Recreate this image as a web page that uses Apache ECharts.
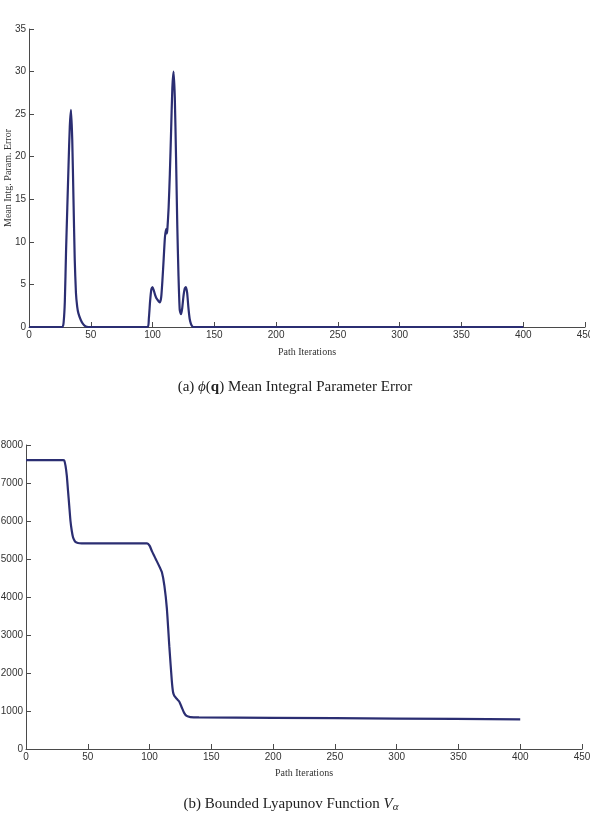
<!DOCTYPE html>
<html>
<head>
    <meta charset="UTF-8"/>
    <title>Path iterations</title>
    <style>
        html, body{
            margin: 0;
            background: #fff;
        }
    </style>
    <script src="https://cdn.jsdelivr.net/npm/echarts@6/dist/echarts.min.js"></script>
</head>
<body>
<div id="container" style="width: 590px;height: 815px;"></div>

<script>
  // (a) mean integral parameter error vs path iteration
  var errIter = [0, 27, 28, 29, 30, 31, 32, 33, 34, 35, 36, 37, 38, 39, 40, 42, 44, 46, 48,
                 96, 97, 98, 99, 100, 101, 102, 103, 104, 105, 106, 107, 108, 109, 110, 111, 111.5, 112,
                 113, 114, 115, 116, 117, 118, 119, 120, 121, 122, 123, 124, 125, 126, 127, 128,
                 129, 130, 131, 132, 133, 400];
  var errVal  = [0, 0, 0.5, 3, 9, 14, 19, 23.5, 25.5, 22, 15, 8, 4, 2.4, 1.6, 0.8, 0.3, 0.05, 0,
                 0, 1, 3, 4.4, 4.7, 4.3, 3.8, 3.4, 3.2, 3.0, 2.9, 3.5, 5.5, 8, 10.5, 11.5, 11, 11.5,
                 14, 18, 23, 28, 30, 27, 20, 12, 6, 2, 1.5, 2.2, 3.6, 4.5, 4.7, 4,
                 2.3, 1, 0.4, 0.1, 0, 0];

  // (b) bounded Lyapunov function vs path iteration
  var lyapIter = [0, 30, 31, 32, 33, 34, 35, 36, 37, 38, 39, 40, 42, 45, 98, 100, 102, 105, 108,
                  110, 112, 114, 116, 118, 119, 120, 122, 124, 126, 128, 130, 133, 140, 200, 300, 400];
  var lyapVal  = [7600, 7600, 7590, 7450, 7200, 6800, 6400, 6000, 5750, 5580, 5500, 5450, 5420, 5410,
                  5410, 5350, 5200, 5000, 4800, 4650, 4300, 3700, 2700, 1800, 1500, 1400, 1320, 1250,
                  1100, 950, 870, 840, 830, 820, 800, 780];

  var xTicks = [0, 450, 50];
  var errTicks = [0, 35, 5];
  var lyapTicks = [0, 8000, 1000];

  function pairs(xs, ys) {
      var out = [];
      for (var i = 0; i < xs.length; i++) out.push([xs[i], ys[i]]);
      return out;
  }

  var lineColor = '#2b2e72';
  var axisColor = '#4a4a4a';
  var sans = '"Liberation Sans", Arial, sans-serif';
  var serif = '"Liberation Serif", "Times New Roman", serif';

  function xAxis(idx, gap) {
      return {
          type: 'value', gridIndex: idx,
          min: xTicks[0], max: xTicks[1], interval: xTicks[2],
          name: 'Path Iterations', nameLocation: 'middle', nameGap: gap,
          nameMoveOverlap: false,
          nameTextStyle: {fontFamily: serif, fontSize: 10, color: '#333'},
          axisLine: {lineStyle: {color: axisColor, width: 1}},
          axisTick: {inside: true, length: 5, lineStyle: {color: axisColor}},
          axisLabel: {fontFamily: sans, fontSize: 10, color: '#333', margin: 3,
                      showMinLabel: true, showMaxLabel: true},
          splitLine: {show: false}
      };
  }

  function yAxis(idx, t, name) {
      return {
          type: 'value', gridIndex: idx,
          min: t[0], max: t[1], interval: t[2],
          name: name, nameLocation: 'middle', nameGap: 16,
          nameMoveOverlap: false,
          nameTextStyle: {fontFamily: serif, fontSize: 10, color: '#333'},
          axisLine: {show: true, lineStyle: {color: axisColor, width: 1}},
          axisTick: {show: true, inside: true, length: 5, lineStyle: {color: axisColor}},
          axisLabel: {fontFamily: sans, fontSize: 10, color: '#333', margin: 3,
                      formatter: function (v) { return String(v); }},
          splitLine: {show: false}
      };
  }

  var dom = document.getElementById("container");
  var myChart = echarts.init(dom);
  var option = {
      animation: false,
      title: [
          {
              text: '(a) {i|\u03D5}({b|q}) Mean Integral Parameter Error',
              left: 'center', top: 375,
              textStyle: {
                  fontFamily: serif, fontSize: 15, fontWeight: 'normal', color: '#222',
                  rich: {
                      i: {fontFamily: serif, fontSize: 15, fontStyle: 'italic', color: '#222'},
                      b: {fontFamily: serif, fontSize: 15, fontWeight: 'bold', color: '#222'}
                  }
              }
          },
          {
              text: '(b) Bounded Lyapunov Function {i|V}{s|\u03B1}',
              left: 286, textAlign: 'center', top: 791,
              textStyle: {
                  fontFamily: serif, fontSize: 15, fontWeight: 'normal', color: '#222',
                  rich: {
                      i: {fontFamily: serif, fontSize: 15, fontStyle: 'italic', color: '#222'},
                      s: {fontFamily: serif, fontSize: 11, fontStyle: 'italic', color: '#222',
                          padding: [6, 0, 0, 0]}
                  }
              }
          }
      ],
      grid: [
          {left: 29, right: 5, top: 29, bottom: 488, containLabel: false, outerBoundsMode: 'none'},
          {left: 26, right: 8, top: 445, bottom: 66, containLabel: false, outerBoundsMode: 'none'}
      ],
      xAxis: [xAxis(0, 20), xAxis(1, 19)],
      yAxis: [yAxis(0, errTicks, 'Mean Intg. Param. Error'), yAxis(1, lyapTicks, '')],
      series: [
          {
              type: 'line', xAxisIndex: 0, yAxisIndex: 0,
              data: pairs(errIter, errVal),
              showSymbol: false, smooth: 0.2,
              lineStyle: {color: lineColor, width: 2.2}
          },
          {
              type: 'line', xAxisIndex: 1, yAxisIndex: 1,
              data: pairs(lyapIter, lyapVal),
              showSymbol: false, smooth: 0.2,
              lineStyle: {color: lineColor, width: 2.2}
          }
      ]
  };
  myChart.setOption(option);
</script>

</body>
</html>
